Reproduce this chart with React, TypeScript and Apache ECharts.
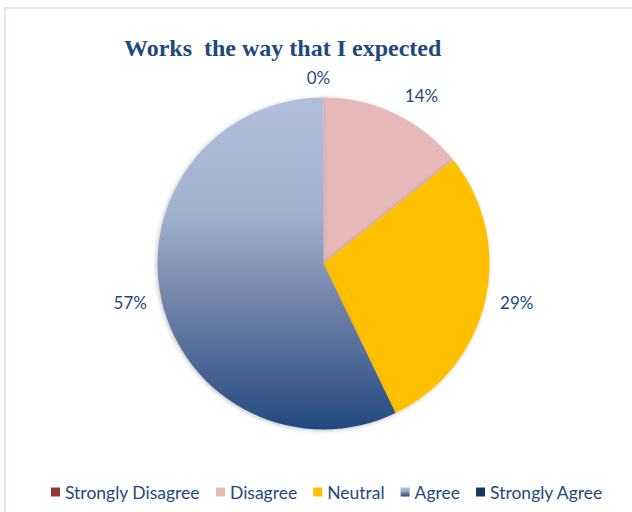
import React, { useEffect, useRef } from "react";
import * as echarts from "echarts";

const TITLE = "Works  the way that I expected";
const categories = ["Strongly Disagree", "Disagree", "Neutral", "Agree", "Strongly Agree"];
const counts = [0, 1, 2, 4, 0];
const showLabel = [true, true, true, true, false];

const agreeGradient = new echarts.graphic.LinearGradient(0, 0, 0, 1, [
  { offset: 0, color: "#b1bfdc" },
  { offset: 0.35, color: "#a0b0cf" },
  { offset: 0.6, color: "#7686ab" },
  { offset: 1, color: "#22497f" },
]);
const colors: any[] = ["#953735", "#e6b9b8", "#ffc000", agreeGradient, "#17375e"];

export default function App() {
  const ref = useRef<HTMLDivElement>(null);
  useEffect(() => {
    const chart = echarts.init(ref.current!, null, { renderer: "svg" });
    const total = counts.reduce((a, b) => a + b, 0);
    chart.setOption({
      animation: false,
      backgroundColor: "#ffffff",
      graphic: [
        {
          type: "rect",
          shape: { x: 5, y: 8, width: 700, height: 600 },
          style: { fill: "none", stroke: "#d6e0ee", lineWidth: 1.5 },
          silent: true,
        },
      ],
      title: {
        text: TITLE,
        left: 119,
        top: 31,
        textStyle: {
          fontFamily: "Liberation Serif",
          fontWeight: "bold",
          fontSize: 24,
          color: "#1f497d",
        },
      },
      legend: {
        top: 478,
        left: 46,
        itemWidth: 9,
        itemHeight: 9,
        itemGap: 16,
        icon: "rect",
        textStyle: { fontFamily: "Lato", fontSize: 17.5, color: "#1f497d" },
        data: categories,
      },
      series: [
        {
          type: "pie",
          center: [323.5, 263.5],
          radius: [0, 166],
          startAngle: 90,
          clockwise: true,
          stillShowZeroSum: true,
          avoidLabelOverlap: false,
          minShowLabelAngle: -1,
          itemStyle: {
            shadowBlur: 4,
            shadowColor: "rgba(0,0,0,0.25)",
            shadowOffsetX: -1,
            shadowOffsetY: 1,
          },
          label: {
            show: true,
            position: "outside",
            fontFamily: "Lato",
            fontSize: 17,
            color: "#1f497d",
            formatter: (p: any) => Math.round((p.value / total) * 100) + "%",
          },
          labelLine: { show: false, length: 10, length2: 0 },
          labelLayout: (p: any) =>
            p.dataIndex === 0
              ? { align: "center", dy: -10 }
              : p.dataIndex === 1
              ? { dy: -9 }
              : {},
          emphasis: { disabled: true },
          data: categories.map((name, i) => ({
            name,
            value: counts[i],
            itemStyle: { color: colors[i] },
            label: { show: showLabel[i] },
          })),
        },
      ],
    });
    return () => chart.dispose();
  }, []);
  return (
    <div
      ref={ref}
      style={{ position: "fixed", left: 0, top: 0, width: 632, height: 512 }}
    />
  );
}
